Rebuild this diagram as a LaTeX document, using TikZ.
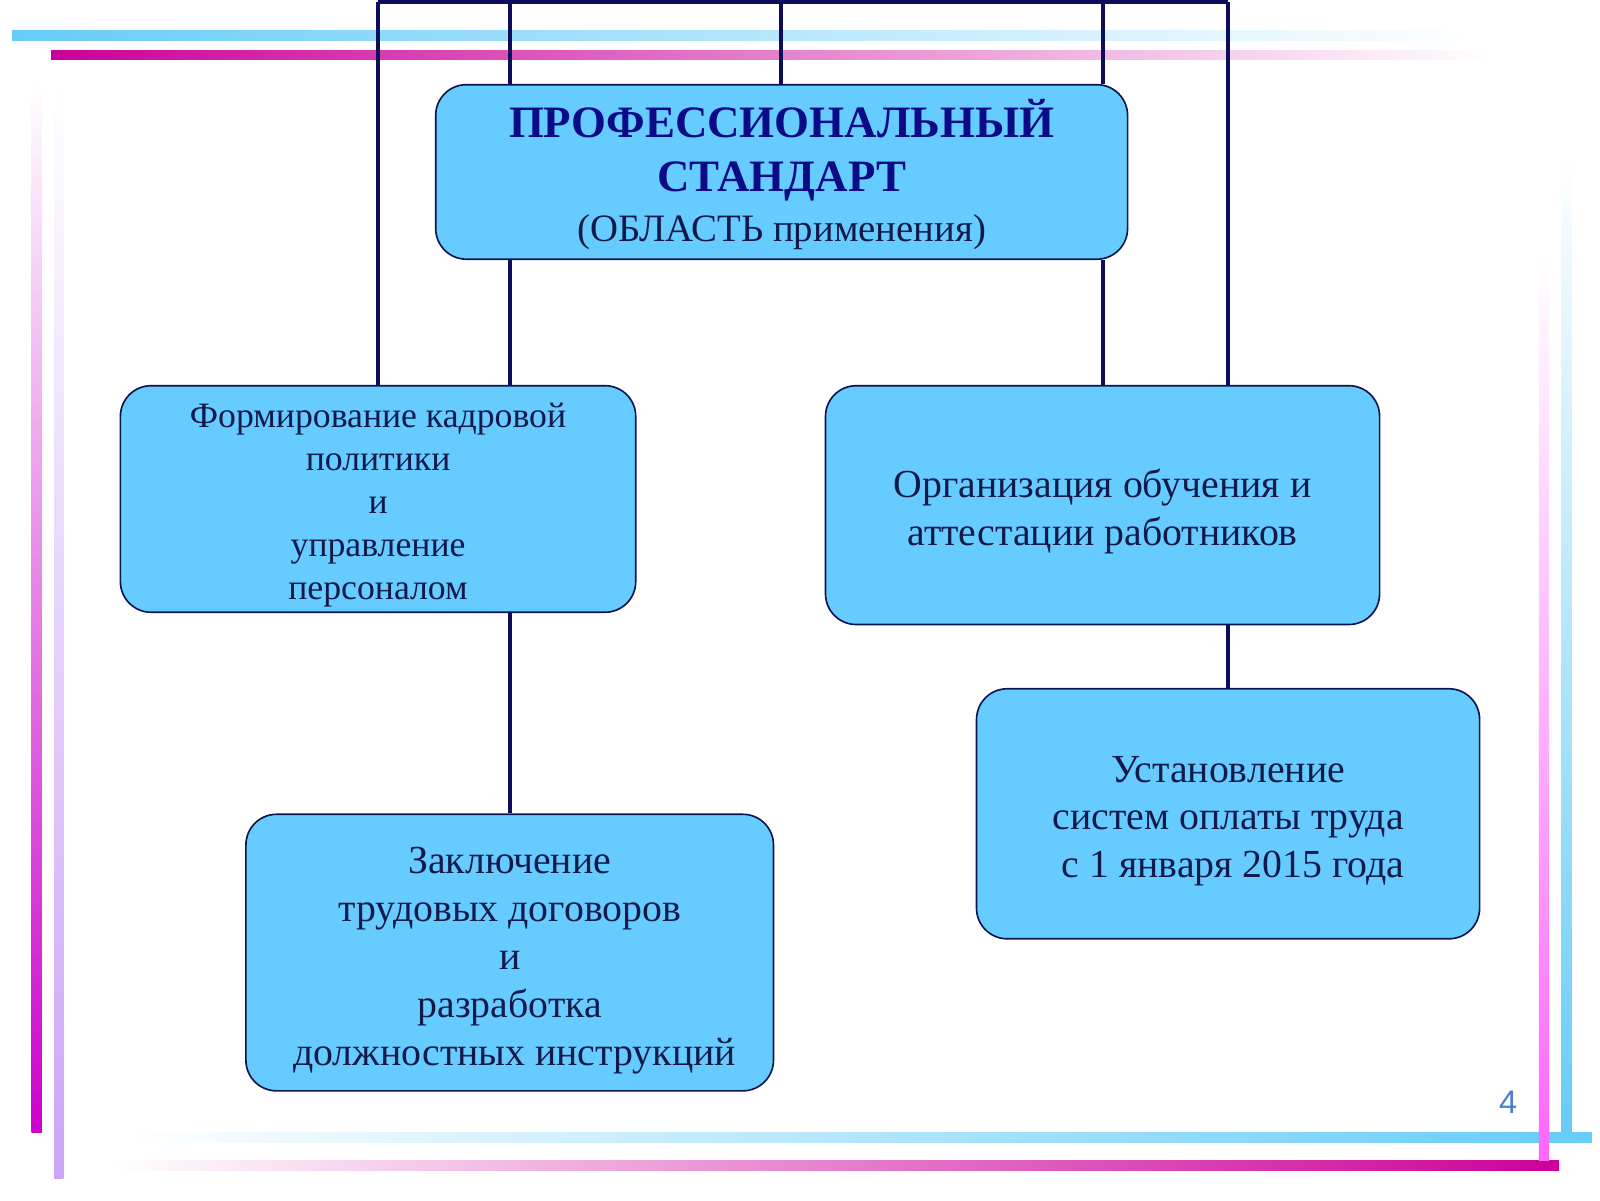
\documentclass[tikz,border=0pt]{standalone}
\usepackage{fontspec}
\setmainfont{Liberation Serif}
\newfontfamily\numfont{Liberation Sans}
\definecolor{boxfill}{HTML}{66CCFF}
\definecolor{boxline}{HTML}{0C1450}
\definecolor{connc}{HTML}{0D0D5C}
\definecolor{txt}{HTML}{111A4A}
\definecolor{titlec}{HTML}{0B0B88}
\definecolor{cyanl}{HTML}{66CCF8}
\definecolor{magd}{HTML}{CC0099}
\definecolor{magm}{HTML}{DE66D0}
\definecolor{magb}{HTML}{CC00CC}
\definecolor{pinkb}{HTML}{FF66FF}
\definecolor{lav}{HTML}{CCA4F6}
\definecolor{numc}{HTML}{4A7FD0}
\newcommand{\myfirststrut}[1]{\rule{0pt}{#1}}
\begin{document}
\begin{tikzpicture}[x=1pt,y=-1pt,
  box/.style={draw=boxline, line width=1.6pt, fill=boxfill, rounded corners=30pt,
    inner sep=0pt, align=center, text=txt},
  conn/.style={draw=connc, line width=4pt},
  bodyfont/.style={font=\fontsize{39}{47}\selectfont},
]
\useasboundingbox (0,0) rectangle (1568,1176);
% decorative frame lines
\shade[left color=cyanl, middle color=cyanl, right color=white] (12,30) rectangle (1450,40);
\shade[left color=magd, middle color=magm, right color=white] (50,49) rectangle (1460,58);
\shade[top color=white, middle color=magm, bottom color=magb] (31,80) rectangle (41,1110);
\shade[top color=white, middle color=lav!60, bottom color=lav] (53,80) rectangle (62,1155);
\shade[left color=white, middle color=cyanl, right color=cyanl] (120,1110) rectangle (1560,1120);
\shade[left color=white, middle color=magm, right color=magd] (110,1137) rectangle (1528,1147);
\shade[top color=white, middle color=pinkb!60, bottom color=pinkb] (1508,250) rectangle (1518,1137);
\shade[top color=white, middle color=cyanl!60, bottom color=cyanl] (1530,150) rectangle (1540,1110);
% boxes
\node[box, minimum width=678pt, minimum height=171pt,
  font=\fontsize{44}{53}\selectfont\bfseries] (top) at (766,168.5)
  {\myfirststrut{43pt}\textcolor{titlec}{ПРОФЕССИОНАЛЬНЫЙ}\\\textcolor{titlec}{СТАНДАРТ}\\[-4pt]{\fontsize{38}{46}\selectfont\mdseries (ОБЛАСТЬ применения)}};
\node[box, minimum width=505pt, minimum height=222pt,
  font=\fontsize{35}{42}\selectfont] (left) at (370.5,489)
  {\myfirststrut{36pt}Формирование кадровой\\политики\\и\\управление\\персоналом};
\node[box, minimum width=543pt, minimum height=234pt, bodyfont] (right) at (1080.5,495)
  {\myfirststrut{40pt}Организация обучения и\\аттестации работников};
\node[box, minimum width=517pt, minimum height=271pt, bodyfont] (bl) at (499.5,933.5)
  {\myfirststrut{41pt}Заключение\\трудовых договоров\\и\\разработка\\\ должностных инструкций};
\node[box, minimum width=493pt, minimum height=245pt, bodyfont] (br) at (1203.5,797.5)
  {\myfirststrut{40pt}Установление\\систем оплаты труда\\\ с 1 января 2015 года};
% bus coordinates
\coordinate (a1) at (370,2);
\coordinate (a2) at (500,2);
\coordinate (a3) at (765,2);
\coordinate (a4) at (1081,2);
\coordinate (a5) at (1203,2);
% connectors
\draw[conn] (a1) -- (a5);
\draw[conn] (a1) -- (left.north -| a1);
\draw[conn] (a2) -- (top.north -| a2);
\draw[conn] (top.south -| a2) -- (left.north -| a2);
\draw[conn] (a3) -- (top.north -| a3);
\draw[conn] (a4) -- (top.north -| a4);
\draw[conn] (top.south -| a4) -- (right.north -| a4);
\draw[conn] (a5) -- (right.north -| a5);
\draw[conn] (left.south -| a2) -- (bl.north -| a2);
\draw[conn] (right.south -| a5) -- (br.north -| a5);
% page number
\node[text=numc, font=\numfont\fontsize{32}{38}\selectfont] (num) at (1478,1080) {4};
\end{tikzpicture}
\end{document}
